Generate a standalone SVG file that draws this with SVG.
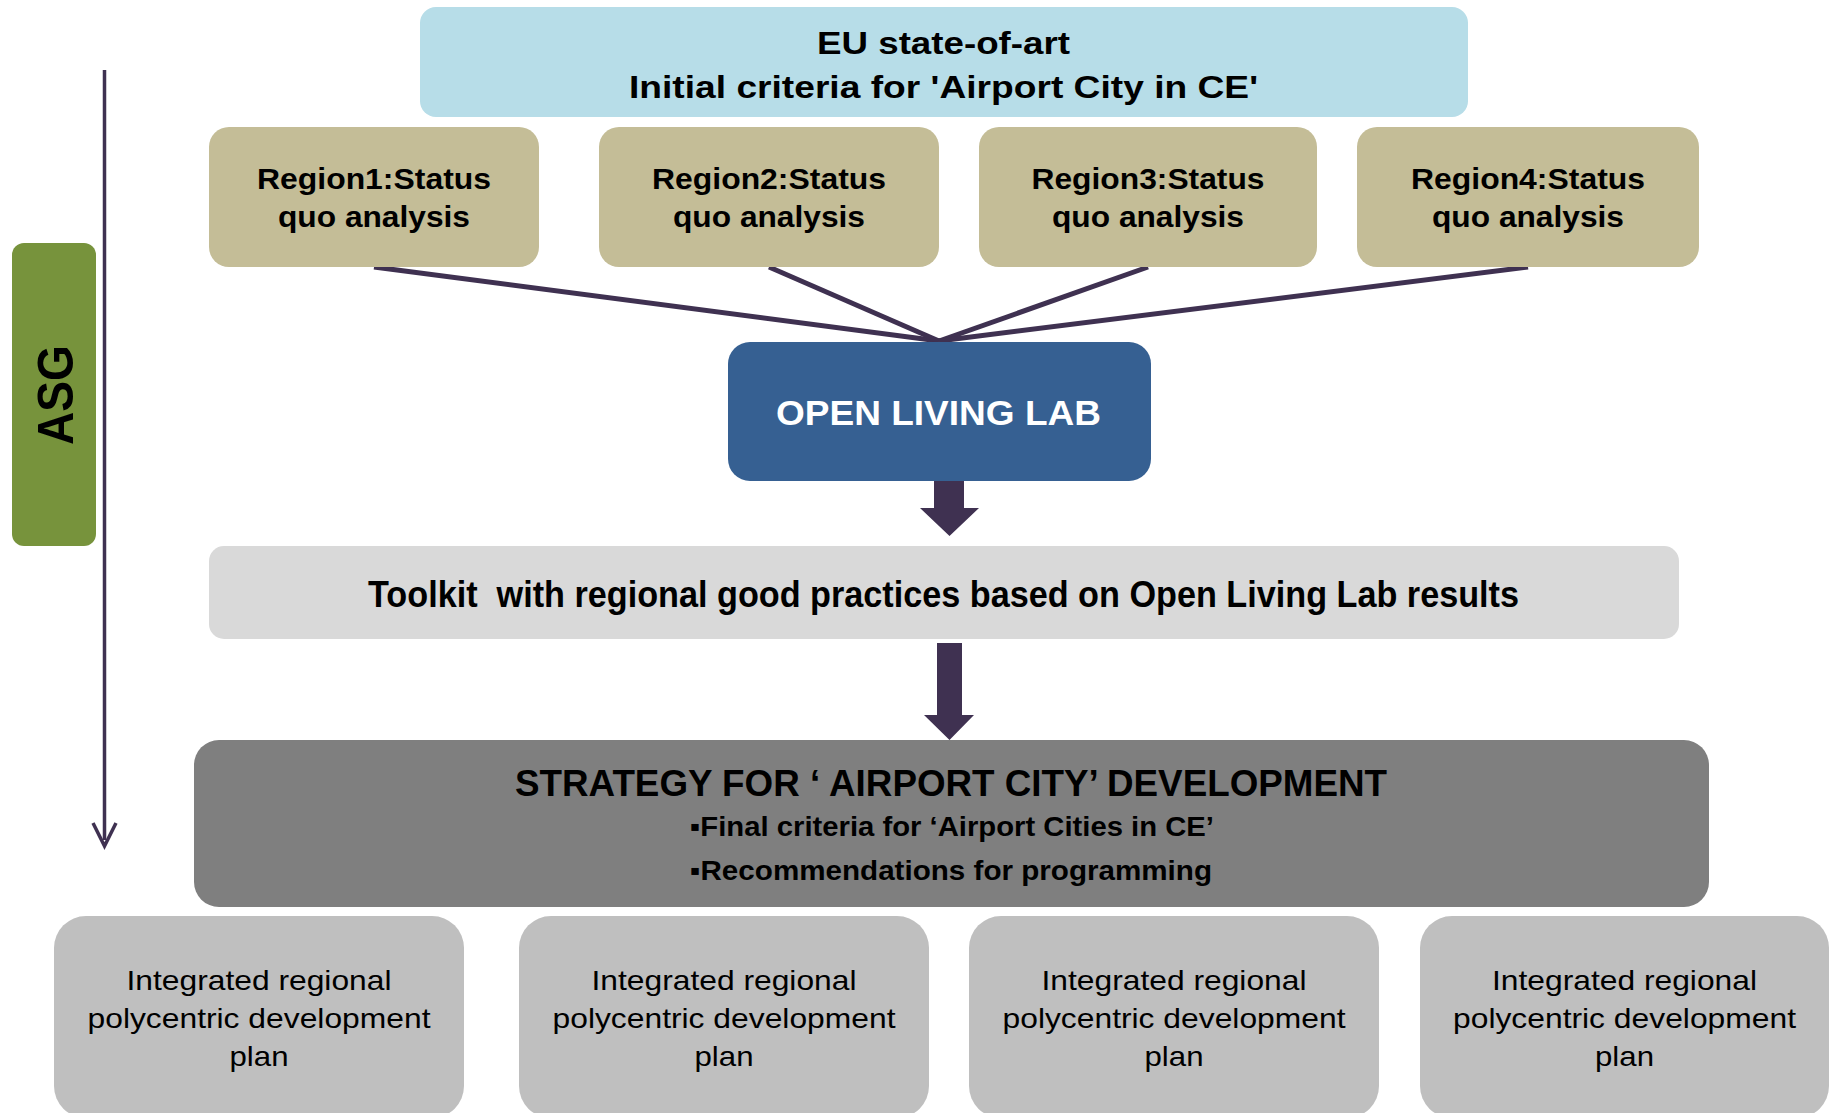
<svg xmlns="http://www.w3.org/2000/svg" width="1831" height="1113" viewBox="0 0 1831 1113">
<style>
  text { font-family: "Liberation Sans", Arial, sans-serif; text-anchor: middle; fill: #000; }
  .b { font-weight: bold; }
  .region rect { fill: #C4BD97; }
  .plan rect { fill: #BFBFBF; }
  .plan text { font-size: 28px; }
  .region text { font-size: 30px; font-weight: bold; }
  .conn { stroke: #3F3151; fill: none; }
  .fat { fill: #3F3151; }
</style>
<defs>
  <marker id="vhead" markerWidth="12" markerHeight="12" refX="10" refY="6" orient="auto" markerUnits="userSpaceOnUse" viewBox="0 0 12 12">
    <path d="M0,0 L10,6 L0,12" fill="none" stroke="#3F3151" stroke-width="3"/>
  </marker>
</defs>
<rect width="1831" height="1113" fill="#FFFFFF"/>

<g id="connectors">
  <line class="conn" x1="104.5" y1="70" x2="104.5" y2="840" stroke-width="3.5"/>
  <polyline class="conn" points="93,823 104.5,846 116,823" stroke-width="3.5"/>
  <line class="conn" x1="374" y1="267" x2="939" y2="341" stroke-width="5"/>
  <line class="conn" x1="769" y1="267" x2="939" y2="341" stroke-width="5"/>
  <line class="conn" x1="1148" y1="267" x2="939" y2="341" stroke-width="5"/>
  <line class="conn" x1="1528" y1="267" x2="939" y2="341" stroke-width="5"/>
  <polygon class="fat" points="934,481 964,481 964,508 979,508 949.5,536 920,508 934,508"/>
  <polygon class="fat" points="937,643 962,643 962,715 974,715 949.5,740 924,715 937,715"/>
</g>

<g id="asg">
  <rect x="12" y="243" width="84" height="303" rx="12" fill="#77933C"/>
  <text class="b" transform="translate(73,395) rotate(-90)" font-size="50" textLength="100" lengthAdjust="spacingAndGlyphs">ASG</text>
</g>

<g id="eu">
  <rect x="420" y="7" width="1048" height="110" rx="16" fill="#B7DDE8"/>
  <text class="b" x="943.5" y="53.5" font-size="32" textLength="253" lengthAdjust="spacingAndGlyphs">EU state-of-art</text>
  <text class="b" x="943.5" y="98" font-size="32" textLength="629" lengthAdjust="spacingAndGlyphs">Initial criteria for 'Airport City in CE'</text>
</g>

<g id="region1" class="region">
  <rect x="209" y="127" width="330" height="140" rx="20"/>
  <text x="374" y="189" textLength="234" lengthAdjust="spacingAndGlyphs">Region1:Status</text>
  <text x="374" y="227" textLength="192" lengthAdjust="spacingAndGlyphs">quo analysis</text>
</g>
<g id="region2" class="region">
  <rect x="599" y="127" width="340" height="140" rx="20"/>
  <text x="769" y="189" textLength="234" lengthAdjust="spacingAndGlyphs">Region2:Status</text>
  <text x="769" y="227" textLength="192" lengthAdjust="spacingAndGlyphs">quo analysis</text>
</g>
<g id="region3" class="region">
  <rect x="979" y="127" width="338" height="140" rx="20"/>
  <text x="1148" y="189" textLength="233" lengthAdjust="spacingAndGlyphs">Region3:Status</text>
  <text x="1148" y="227" textLength="192" lengthAdjust="spacingAndGlyphs">quo analysis</text>
</g>
<g id="region4" class="region">
  <rect x="1357" y="127" width="342" height="140" rx="20"/>
  <text x="1528" y="189" textLength="234" lengthAdjust="spacingAndGlyphs">Region4:Status</text>
  <text x="1528" y="227" textLength="192" lengthAdjust="spacingAndGlyphs">quo analysis</text>
</g>

<g id="openlivinglab">
  <rect x="728" y="342" width="423" height="139" rx="22" fill="#366092"/>
  <text class="b" x="938.5" y="425" font-size="35" textLength="325" lengthAdjust="spacingAndGlyphs" style="fill:#FFFFFF">OPEN LIVING LAB</text>
</g>

<g id="toolkit">
  <rect x="209" y="546" width="1470" height="93" rx="15" fill="#D9D9D9"/>
  <text class="b" x="943.5" y="607" font-size="37" textLength="1151" lengthAdjust="spacingAndGlyphs" style="white-space:pre">Toolkit  with regional good practices based on Open Living Lab results</text>
</g>

<g id="strategy">
  <rect x="194" y="740" width="1515" height="167" rx="25" fill="#7F7F7F"/>
  <text class="b" x="951" y="796" font-size="36" textLength="872" lengthAdjust="spacingAndGlyphs">STRATEGY FOR ‘ AIRPORT CITY’ DEVELOPMENT</text>
  <text class="b" x="690" y="836" font-size="28" textLength="524" lengthAdjust="spacingAndGlyphs" style="text-anchor:start">▪Final criteria for ‘Airport Cities in CE’</text>
  <text class="b" x="690" y="880" font-size="28" textLength="522" lengthAdjust="spacingAndGlyphs" style="text-anchor:start">▪Recommendations for programming</text>
</g>

<g id="plan1" class="plan">
  <rect x="54" y="916" width="410" height="202" rx="32"/>
  <text x="259" y="990" textLength="265" lengthAdjust="spacingAndGlyphs">Integrated regional</text>
  <text x="259" y="1028" textLength="343" lengthAdjust="spacingAndGlyphs">polycentric development</text>
  <text x="259" y="1066" textLength="59" lengthAdjust="spacingAndGlyphs">plan</text>
</g>
<g id="plan2" class="plan">
  <rect x="519" y="916" width="410" height="202" rx="32"/>
  <text x="724" y="990" textLength="265" lengthAdjust="spacingAndGlyphs">Integrated regional</text>
  <text x="724" y="1028" textLength="343" lengthAdjust="spacingAndGlyphs">polycentric development</text>
  <text x="724" y="1066" textLength="59" lengthAdjust="spacingAndGlyphs">plan</text>
</g>
<g id="plan3" class="plan">
  <rect x="969" y="916" width="410" height="202" rx="32"/>
  <text x="1174" y="990" textLength="265" lengthAdjust="spacingAndGlyphs">Integrated regional</text>
  <text x="1174" y="1028" textLength="343" lengthAdjust="spacingAndGlyphs">polycentric development</text>
  <text x="1174" y="1066" textLength="59" lengthAdjust="spacingAndGlyphs">plan</text>
</g>
<g id="plan4" class="plan">
  <rect x="1420" y="916" width="409" height="202" rx="32"/>
  <text x="1624.5" y="990" textLength="265" lengthAdjust="spacingAndGlyphs">Integrated regional</text>
  <text x="1624.5" y="1028" textLength="343" lengthAdjust="spacingAndGlyphs">polycentric development</text>
  <text x="1624.5" y="1066" textLength="59" lengthAdjust="spacingAndGlyphs">plan</text>
</g>
</svg>
